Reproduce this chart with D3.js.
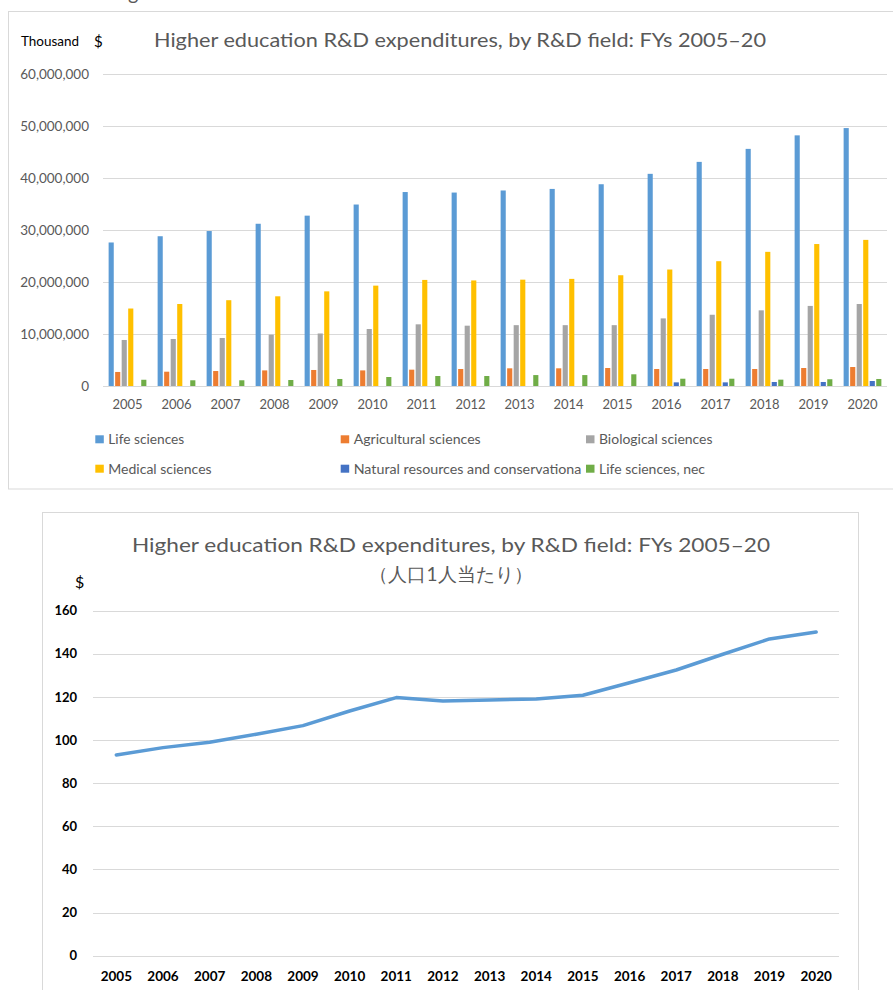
<!DOCTYPE html>
<html>
<head>
<meta charset="utf-8">
<script src="https://cdn.jsdelivr.net/npm/d3@7"></script>
<style>
  body { margin: 0; background: #fff; }
  svg { display: block; }
  text { font-family: Lato, "Open Sans", sans-serif; }
</style>
</head>
<body>
<svg id="chart" width="893" height="990"></svg>
<script>
// ---- data (thousand $) ----
const years = ["2005","2006","2007","2008","2009","2010","2011","2012","2013","2014","2015","2016","2017","2018","2019","2020"];
const seriesNames = ["Life sciences", "Agricultural sciences", "Biological sciences",
                     "Medical sciences", "Natural resources and conservationa", "Life sciences, nec"];
const lifeSciences  = [27600000, 28800000, 29800000, 31200000, 32760000, 34900000, 37300000, 37200000, 37600000, 37900000, 38800000, 40800000, 43100000, 45600000, 48200000, 49600000];
const agricultural  = [2700000, 2750000, 2880000, 3000000, 3080000, 3000000, 3140000, 3270000, 3400000, 3400000, 3460000, 3270000, 3270000, 3270000, 3460000, 3650000];
const biological    = [8850000, 9040000, 9230000, 9870000, 10100000, 10960000, 11860000, 11600000, 11700000, 11700000, 11700000, 13000000, 13700000, 14550000, 15400000, 15770000];
const medical       = [14900000, 15770000, 16500000, 17250000, 18200000, 19300000, 20400000, 20300000, 20450000, 20600000, 21300000, 22400000, 24000000, 25800000, 27300000, 28100000];
const naturalRes    = [null, null, null, null, null, null, null, null, null, null, null, 700000, 700000, 770000, 770000, 960000];
const lifeSciNec    = [1200000, 1100000, 1100000, 1150000, 1350000, 1730000, 1920000, 1920000, 2100000, 2100000, 2250000, 1400000, 1400000, 1220000, 1300000, 1350000];
const barTicks = [0, 10000000, 20000000, 30000000, 40000000, 50000000, 60000000];

// per-capita spending ($)
const perCapita = [93.1, 96.5, 99.0, 102.7, 106.7, 113.5, 119.7, 118.1, 118.6, 119.1, 120.8, 126.6, 132.5, 139.8, 146.9, 150.1];
const lineTicks = [0, 20, 40, 60, 80, 100, 120, 140, 160];

const titleText = "Higher education R&D expenditures, by R&D field: FYs 2005\u201320";
const subTitleText = "\uFF08\u4EBA\u53E31\u4EBA\u5F53\u305F\u308A\uFF09";

// ---- styling ----
const colors = ["#5B9BD5", "#ED7D31", "#A5A5A5", "#FFC000", "#4472C4", "#70AD47"];
const GRID = "#d9d9d9";
const GREY_TEXT = "#595959";

const svg = d3.select("#chart");

// fragment of the text line above the first chart
svg.append("text").attr("x", 128).attr("y", 0).attr("font-size", 20)
  .attr("fill", GREY_TEXT).text("g");

// =================== clustered column chart ===================
svg.append("rect").attr("x", 8.5).attr("y", 11.5).attr("width", 900).attr("height", 477.5)
  .attr("fill", "#fff").attr("stroke", GRID);

const seriesData = [lifeSciences, agricultural, biological, medical, naturalRes, lifeSciNec];

const x0 = d3.scaleBand().domain(years).range([103, 887]);
const x1 = d3.scaleBand().domain(d3.range(seriesNames.length))
  .range([0, x0.bandwidth()]).paddingInner(0.2126).paddingOuter(0.862);
const yBar = d3.scaleLinear().domain([0, 60000000]).range([386, 74]);

// gridlines
svg.append("g").selectAll("line").data(barTicks).join("line")
  .attr("x1", 103).attr("x2", 887)
  .attr("y1", d => Math.round(yBar(d)) + 0.5).attr("y2", d => Math.round(yBar(d)) + 0.5)
  .attr("stroke", GRID).attr("stroke-width", 1.2);

// bars
const barRows = [];
seriesData.forEach((vals, si) => vals.forEach((v, yi) => {
  if (v != null) barRows.push({ s: si, year: years[yi], v });
}));
svg.append("g").selectAll("rect").data(barRows).join("rect")
  .attr("x", d => x0(d.year) + x1(d.s))
  .attr("width", x1.bandwidth())
  .attr("y", d => yBar(d.v))
  .attr("height", d => yBar(0) - yBar(d.v))
  .attr("fill", d => colors[d.s]);

// axes
const yAxisBar = svg.append("g").attr("transform", "translate(103,0)")
  .call(d3.axisLeft(yBar).tickValues(barTicks).tickFormat(d3.format(",")).tickSize(0).tickPadding(14));
yAxisBar.select(".domain").remove();
yAxisBar.selectAll("text").attr("font-family", "Lato, sans-serif").attr("font-size", 13.5).attr("fill", GREY_TEXT);

const xAxisBar = svg.append("g").attr("transform", "translate(0,386)")
  .call(d3.axisBottom(x0).tickSize(0).tickPadding(14));
xAxisBar.select(".domain").remove();
xAxisBar.selectAll("text").attr("font-family", "Lato, sans-serif").attr("font-size", 13).attr("fill", GREY_TEXT);

// title + unit
svg.append("text").attr("x", 21).attr("y", 46).attr("font-size", 13.5).attr("fill", "#000")
  .attr("textLength", 58).attr("lengthAdjust", "spacingAndGlyphs").text("Thousand");
svg.append("text").attr("x", 94).attr("y", 47).attr("font-size", 15).attr("fill", "#000").text("$");
svg.append("text").attr("x", 154).attr("y", 47).attr("font-size", 19).attr("fill", GREY_TEXT)
  .attr("textLength", 612).attr("lengthAdjust", "spacingAndGlyphs").text(titleText);

// legend
const legendCols = [95.3, 340.7, 586];
const legendRows = [439.3, 468.7];
const legendWidths = [76, 127, 113.5, 103.3, 227.7, 106];
const legend = svg.append("g").selectAll("g").data(seriesNames).join("g")
  .attr("transform", (d, i) => `translate(${legendCols[i % 3]},${legendRows[Math.floor(i / 3)]})`);
legend.append("rect").attr("x", 0).attr("y", -4).attr("width", 8.5).attr("height", 8)
  .attr("fill", (d, i) => colors[i]);
legend.append("text").attr("x", 13).attr("y", 4.8).attr("font-size", 13.5).attr("fill", GREY_TEXT)
  .attr("textLength", (d, i) => legendWidths[i]).attr("lengthAdjust", "spacingAndGlyphs")
  .text(d => d);

// =================== per-capita line chart ===================
svg.append("rect").attr("x", 42.5).attr("y", 512.5).attr("width", 816).attr("height", 520)
  .attr("fill", "#fff").attr("stroke", GRID);

const xLine = d3.scaleBand().domain(years).range([93, 839.5]);
const yLine = d3.scaleLinear().domain([0, 160]).range([955.7, 610.7]);
const cx = d => xLine(d) + xLine.bandwidth() / 2;

svg.append("g").selectAll("line").data(lineTicks).join("line")
  .attr("x1", 93).attr("x2", 839)
  .attr("y1", d => Math.round(yLine(d)) + 0.5).attr("y2", d => Math.round(yLine(d)) + 0.5)
  .attr("stroke", GRID).attr("stroke-width", 1.2);

const yAxisLine = svg.append("g").attr("transform", "translate(93,0)")
  .call(d3.axisLeft(yLine).tickValues(lineTicks).tickSize(0).tickPadding(16));
yAxisLine.select(".domain").remove();
yAxisLine.selectAll("text").attr("font-family", "Lato, sans-serif").attr("font-size", 13)
  .attr("font-weight", "bold").attr("fill", "#000");

const xAxisLine = svg.append("g").attr("transform", "translate(0,955.7)")
  .call(d3.axisBottom(xLine).tickSize(0).tickPadding(16));
xAxisLine.select(".domain").remove();
xAxisLine.selectAll("text").attr("font-family", "Lato, sans-serif").attr("font-size", 13.5)
  .attr("font-weight", "bold").attr("fill", "#000");

const line = d3.line().x((d, i) => cx(years[i])).y(d => yLine(d));
svg.append("path").datum(perCapita).attr("d", line)
  .attr("fill", "none").attr("stroke", "#5B9BD5").attr("stroke-width", 3.5)
  .attr("stroke-linecap", "round").attr("stroke-linejoin", "round");

svg.append("text").attr("x", 451).attr("y", 552).attr("text-anchor", "middle")
  .attr("font-size", 20).attr("fill", GREY_TEXT)
  .attr("textLength", 638).attr("lengthAdjust", "spacingAndGlyphs").text(titleText);
svg.append("text").attr("x", 451).attr("y", 581).attr("text-anchor", "middle")
  .attr("font-family", "'Noto Sans CJK JP', sans-serif")
  .attr("font-size", 19).attr("fill", GREY_TEXT).text(subTitleText);
svg.append("text").attr("x", 75).attr("y", 588).attr("font-size", 16).attr("fill", "#000").text("$");
</script>
</body>
</html>
